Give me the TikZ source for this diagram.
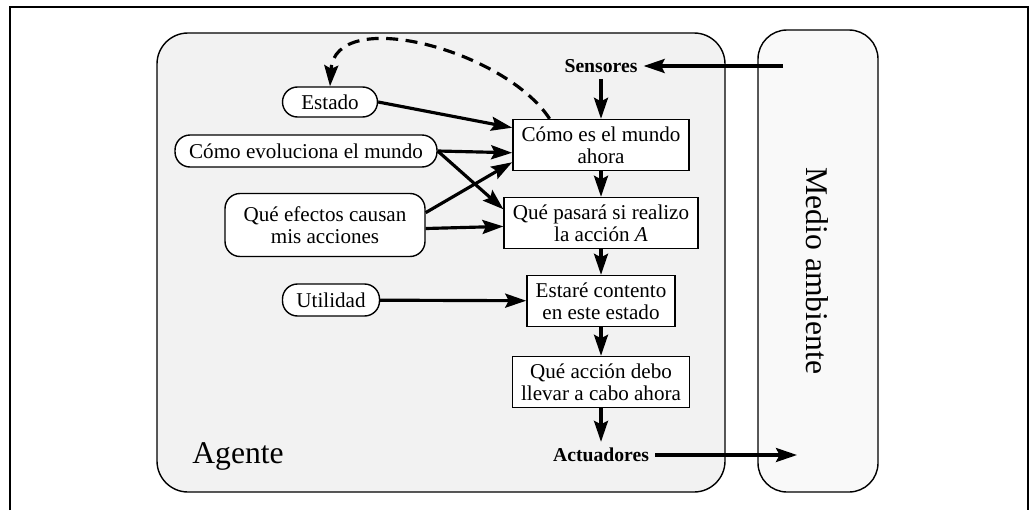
\documentclass[tikz,border=0pt]{standalone}
\usepackage{fontspec}
\setmainfont{Liberation Serif}
\usetikzlibrary{arrows.meta}

\tikzset{
  caja/.style={draw, line width=0.8pt, fill=white, align=center, inner xsep=5pt,
    minimum height=1.02cm, font=\fontsize{12}{12.5}\selectfont},
  ovalo/.style={draw, line width=0.8pt, fill=white, rounded corners=0.3cm, align=center,
    inner sep=0pt, font=\fontsize{12}{12.5}\selectfont},
  flecha/.style={line width=1.8pt, -{Stealth[length=4.2mm,width=2.8mm,inset=0.7mm]}},
  discont/.style={flecha, dash pattern=on 0.24cm off 0.15cm},
  rotulo/.style={font=\bfseries\fontsize{11.2}{12}\selectfont},
}

\begin{document}
\begin{tikzpicture}[x=0.02cm, y=-0.02cm]
    \useasboundingbox (0,0) rectangle (1030,510);

    %frame
    \draw[line width=0.7pt] (10,510) -- (10,7) -- (1028,7) -- (1028,510);

    %agent and environment
    \filldraw[line width=0.8pt, fill=gray!10, rounded corners=0.62cm] (157,33) rectangle (725,492);
    \filldraw[line width=0.8pt, fill=gray!5, rounded corners=0.58cm] (758,30) rectangle (878,492);
    \node[font=\fontsize{18}{20}\selectfont, anchor=base west, inner sep=0pt] (agente) at (192,463) {Agente};
    \node[font=\fontsize{18}{20}\selectfont, rotate=-90] (medio) at (817,271) {Medio ambiente};

    %chain
    \node[rotulo] (sensores) at (601,66) {Sensores};
    \node[caja] (como) at (601,145) {Cómo es el mundo\\ahora};
    \node[caja] (pasara) at (601,223) {Qué pasará si realizo\\la acción \textit{A}};
    \node[caja] (contento) at (601,301) {Estaré contento\\en este estado};
    \node[caja] (accion) at (601,382) {Qué acción debo\\llevar a cabo ahora};
    \node[rotulo] (actuadores) at (601,455) {Actuadores};

    %knowledge
    \node[ovalo, minimum width=1.9cm, minimum height=0.6cm] (estado) at (330,102) {Estado};
    \node[ovalo, minimum width=5.24cm, minimum height=0.64cm] (evol) at (306,151) {Cómo evoluciona el mundo};
    \node[ovalo, minimum width=4cm, minimum height=1.26cm] (efectos) at (325,225) {Qué efectos causan\\mis acciones};
    \node[ovalo, minimum width=1.94cm, minimum height=0.64cm] (utilidad) at (331,300) {Utilidad};

    \coordinate (entrada) at (783,66);
    \coordinate (salida) at (797,455);

    %arrows
    \draw[flecha] (entrada) -- (sensores.east);
    \draw[flecha] (sensores) -- (como);
    \draw[flecha] (como) -- (pasara);
    \draw[flecha] (pasara) -- (contento);
    \draw[flecha] (contento) -- (accion);
    \draw[flecha] (accion) -- (actuadores);
    \draw[flecha] (actuadores.east) -- (salida);

    \draw[flecha] (estado.east) -- (como.169);
    \draw[flecha] (evol.east) -- (como.185);
    \draw[flecha] (evol.east) -- (pasara.172);
    \draw[flecha] (efectos.7) -- (como.191);
    \draw[flecha] (efectos.-2) -- (pasara.182);
    \draw[flecha] (utilidad) -- (contento);
    \draw[discont] (como.153) .. controls (505,50) and (335,5) .. (estado.north);

\end{tikzpicture}
\end{document}
